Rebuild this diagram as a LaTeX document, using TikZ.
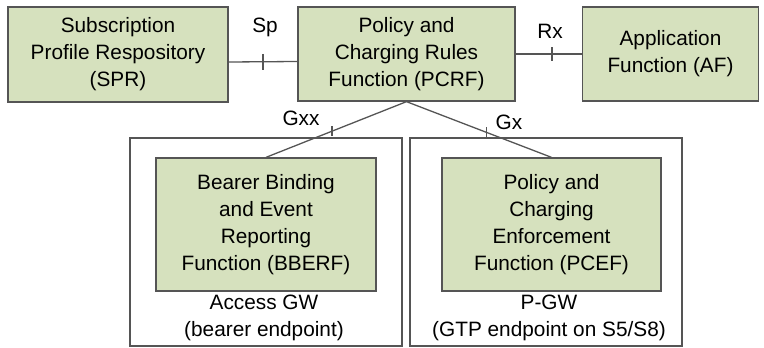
\documentclass[tikz,border=0pt]{standalone}
\usepackage{fontspec}
\setmainfont{Liberation Sans}
\definecolor{boxfill}{RGB}{214,225,190}
\definecolor{edge}{RGB}{85,85,85}
\begin{document}
\begin{tikzpicture}[x=1pt,y=-1pt,
  font=\fontsize{20.8}{27}\selectfont,
  func/.style={draw=edge,line width=1.3pt,fill=boxfill,align=center,
    inner sep=0pt,minimum width=#1},
  gw/.style={draw=edge,line width=1.1pt,inner sep=0pt},
  link/.style={draw=edge,line width=1.3pt},
  lbl/.style={inner sep=0pt,text=black}]
\useasboundingbox (0,0) rectangle (764,348);

% functional entities, top row
\node[func=220pt,minimum height=95pt] (spr) at (118,54.5)
  {Subscription\\Profile Respository\\(SPR)};
\node[func=217pt,minimum height=94pt] (pcrf) at (406.5,54)
  {Policy and\\Charging Rules\\Function (PCRF)};
\node[func=176pt,minimum height=94pt] (af) at (670.5,54)
  {Application\\Function (AF)};

% gateways
\node[gw,minimum width=272pt,minimum height=208pt] (agw) at (266,242) {};
\node[gw,minimum width=272pt,minimum height=208pt] (pgw) at (546,242) {};
\node[lbl,align=center,anchor=south] at (264,341) {Access GW\\(bearer endpoint)};
\node[lbl,align=center,anchor=south] at (549,341) {P-GW\\(GTP endpoint on S5/S8)};

% functions inside gateways
\node[func=220pt,minimum height=133pt] (bberf) at (266,224.5)
  {Bearer Binding\\and Event\\Reporting\\Function (BBERF)};
\node[func=219pt,minimum height=133pt] (pcef) at (551.5,224.5)
  {Policy and\\Charging\\Enforcement\\Function (PCEF)};

% reference points
\draw[link] ([yshift=-7.5pt]spr.east) -- coordinate[pos=0.5] (sp) ([yshift=-7.5pt]pcrf.west);
\draw[link] (sp) ++(0,-8) -- ++(0,16);
\node[lbl] at (265,27) {Sp};

\draw[link] (pcrf.east) -- coordinate[pos=0.55] (rx) (af.west);
\draw[link] (rx) ++(0,-7) -- ++(0,14);
\node[lbl] at (550,31) {Rx};

\draw[link] (pcrf.south) -- coordinate[pos=0.53] (gxx) (bberf.north);
\draw[link] (gxx) ++(0,-5) -- ++(0,10);
\node[lbl] at (301,118) {Gxx};

\draw[link] (pcrf.south) -- coordinate[pos=0.55] (gx) (pcef.north);
\draw[link] (gx) ++(0,-5) -- ++(0,10);
\node[lbl] at (509,122) {Gx};
\end{tikzpicture}
\end{document}
